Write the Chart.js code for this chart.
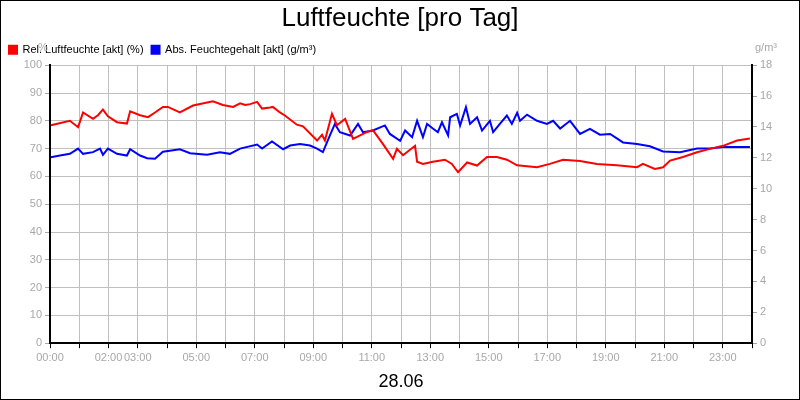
<!DOCTYPE html>
<html>
<head>
<meta charset="utf-8">
<script src="https://cdn.jsdelivr.net/npm/chart.js@4"></script>
<style>
  html, body { margin: 0; padding: 0; background: #fff; }
  #wrap { width: 800px; height: 400px; box-sizing: border-box; border: 1px solid #000; position: relative; }
  canvas { display: block; }
</style>
</head>
<body>
<div id="wrap"><canvas id="chart" width="798" height="398"></canvas></div>
<script>
// hours of day (0-24) and values
const relHours = [0.03, 0.68, 0.96, 1.13, 1.47, 1.64, 1.81, 1.98, 2.29, 2.63, 2.74, 3.08, 3.35, 3.59, 3.86, 4.03, 4.44, 4.89, 5.57, 5.91, 6.26, 6.5, 6.67, 6.84, 7.08, 7.25, 7.52, 7.62, 7.86, 8.03, 8.44, 8.65, 9.13, 9.3, 9.4, 9.64, 9.81, 10.09, 10.36, 10.84, 11.04, 11.38, 11.73, 11.86, 12.07, 12.48, 12.55, 12.75, 13.09, 13.5, 13.74, 13.95, 14.26, 14.6, 14.94, 15.28, 15.62, 15.97, 16.65, 17.09, 17.54, 18.12, 18.7, 19.38, 20.07, 20.27, 20.68, 20.96, 21.2, 21.64, 22.12, 22.56, 23.01, 23.49, 23.93];
const relValues = [78.4, 80, 77.7, 83, 80.7, 82, 84, 81.6, 79.5, 79, 83.4, 82, 81.3, 83, 85, 85, 83, 85.5, 87, 85.7, 85, 86.3, 85.7, 86, 86.8, 84.4, 84.8, 85, 83, 81.9, 78.6, 78, 72.9, 75, 72.9, 82.5, 78.4, 80.7, 73.5, 76, 76.6, 71.7, 66.3, 69.9, 67.6, 71, 65.3, 64.5, 65.3, 66, 64.5, 61.5, 65, 63.9, 67, 67, 66, 64, 63.3, 64.5, 66, 65.5, 64.5, 64, 63.3, 64.5, 62.7, 63.3, 65.7, 67, 68.7, 69.9, 71, 72.9, 73.6];

const absHours = [0.03, 0.34, 0.68, 0.96, 1.13, 1.47, 1.71, 1.81, 1.98, 2.29, 2.63, 2.74, 3.08, 3.32, 3.59, 3.86, 4.44, 4.79, 5.37, 5.81, 6.15, 6.5, 7.08, 7.25, 7.59, 7.97, 8.21, 8.55, 8.89, 9.13, 9.33, 9.57, 9.74, 9.91, 10.26, 10.53, 10.7, 11.04, 11.45, 11.62, 11.97, 12.14, 12.38, 12.55, 12.75, 12.89, 13.09, 13.26, 13.4, 13.61, 13.68, 13.91, 14.02, 14.22, 14.36, 14.6, 14.77, 15.04, 15.15, 15.38, 15.62, 15.79, 15.97, 16.07, 16.31, 16.65, 16.99, 17.2, 17.44, 17.78, 18.12, 18.46, 18.8, 19.15, 19.59, 20.07, 20.51, 20.96, 21.54, 22.12, 22.56, 23.01, 23.93];
const absValues = [12.04, 12.15, 12.26, 12.6, 12.26, 12.37, 12.6, 12.2, 12.6, 12.26, 12.15, 12.56, 12.15, 11.98, 11.94, 12.4, 12.56, 12.3, 12.2, 12.37, 12.26, 12.6, 12.86, 12.6, 13.06, 12.56, 12.8, 12.9, 12.8, 12.6, 12.37, 13.45, 14.2, 13.66, 13.45, 14.2, 13.66, 13.77, 14.1, 13.55, 13.1, 13.77, 13.34, 14.4, 13.34, 14.2, 13.9, 13.66, 14.3, 13.45, 14.63, 14.85, 14.1, 15.28, 14.2, 14.63, 13.77, 14.4, 13.66, 14.2, 14.74, 14.2, 14.92, 14.4, 14.8, 14.4, 14.2, 14.4, 13.9, 14.4, 13.55, 13.88, 13.5, 13.55, 13.0, 12.9, 12.75, 12.41, 12.37, 12.6, 12.6, 12.7, 12.7];

const xLabels = { 0: '00:00', 2: '02:00', 3: '03:00', 5: '05:00', 7: '07:00', 9: '09:00', 11: '11:00', 13: '13:00', 15: '15:00', 17: '17:00', 19: '19:00', 21: '21:00', 23: '23:00' };

const GRID = '#c0c0c0';
const TICK = '#a8a8a8';
const FONT = 'Liberation Sans, Arial, sans-serif';

const unitLabels = {
  id: 'unitLabels',
  afterDraw(chart) {
    const { ctx, scales } = chart;
    ctx.save();
    ctx.font = '11px ' + FONT;
    ctx.fillStyle = TICK;
    ctx.textBaseline = 'middle';
    ctx.textAlign = 'center';
    ctx.fillText('%', 42, 47);
    ctx.fillText('g/m³', scales.y1.left + 14, 47);
    ctx.restore();
  }
};

new Chart(document.getElementById('chart'), {
  type: 'line',
  data: {
    datasets: [{
      label: 'Rel. Luftfeuchte [akt] (%)',
      data: relHours.map((h, i) => ({ x: h, y: relValues[i] })),
      borderColor: '#ff0000',
      backgroundColor: '#ff0000',
      borderWidth: 2,
      pointRadius: 0,
      tension: 0,
      yAxisID: 'y',
    }, {
      label: 'Abs. Feuchtegehalt [akt] (g/m³)',
      data: absHours.map((h, i) => ({ x: h, y: absValues[i] })),
      borderColor: '#0000ff',
      backgroundColor: '#0000ff',
      borderWidth: 2,
      pointRadius: 0,
      tension: 0,
      yAxisID: 'y1',
    }],
  },
  options: {
    responsive: false,
    animation: false,
    devicePixelRatio: 1,
    layout: { padding: { top: 0, bottom: 6, left: 0, right: 0 } },
    plugins: {
      title: {
        display: true,
        text: 'Luftfeuchte [pro Tag]',
        color: '#000',
        font: { family: FONT, size: 26, weight: 'normal' },
        padding: { top: 2, bottom: 2 },
      },
      legend: {
        align: 'start',
        labels: {
          boxWidth: 8, boxHeight: 8, padding: 8,
          color: '#000',
          font: { family: FONT, size: 11 },
        },
      },
      tooltip: { enabled: false },
    },
    scales: {
      x: {
        type: 'linear', min: 0, max: 24,
        ticks: {
          stepSize: 1, autoSkip: false, maxRotation: 0,
          color: TICK, font: { family: FONT, size: 11 },
          callback: v => xLabels[v] || '',
        },
        grid: { color: GRID, tickColor: '#000', tickLength: 5 },
        border: { color: '#000', width: 2 },
        title: { display: true, text: '28.06', color: '#000', font: { family: FONT, size: 18 }, padding: { top: 4, bottom: 0 } },
      },
      y: {
        position: 'left', min: 0, max: 100,
        ticks: { stepSize: 10, color: TICK, font: { family: FONT, size: 11 } },
        grid: { color: GRID, tickColor: TICK, tickLength: 5 },
        border: { color: '#000', width: 2 },
        afterFit: s => { s.width = 49; },
      },
      y1: {
        position: 'right', min: 0, max: 18,
        ticks: { stepSize: 2, color: TICK, font: { family: FONT, size: 11 } },
        grid: { drawOnChartArea: false, tickColor: TICK, tickLength: 5 },
        border: { color: '#000', width: 2 },
        afterFit: s => { s.width = 47; },
      },
    },
  },
  plugins: [unitLabels],
});
</script>
</body>
</html>
